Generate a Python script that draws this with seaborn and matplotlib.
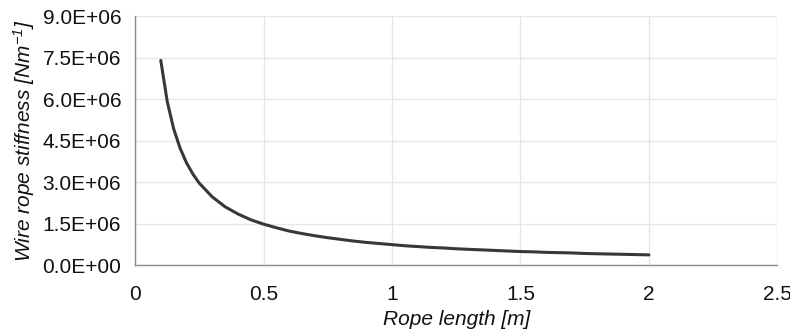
import matplotlib
matplotlib.use("Agg")
import matplotlib.pyplot as plt
from matplotlib.ticker import FuncFormatter
import seaborn as sns
import pandas as pd

# values
rope_length = [0.10, 0.125, 0.15, 0.175, 0.20, 0.225, 0.25, 0.30, 0.35, 0.40, 0.45, 0.50, 0.55,
               0.60, 0.65, 0.70, 0.75, 0.80, 0.85, 0.90, 0.95, 1.00, 1.05,
               1.10, 1.15, 1.20, 1.25, 1.30, 1.35, 1.40, 1.45, 1.50, 1.55,
               1.60, 1.65, 1.70, 1.75, 1.80, 1.85, 1.90, 1.95, 2.00]
stiffness = [7.40e6, 5.92e6, 4.93e6, 4.23e6, 3.70e6, 3.29e6, 2.96e6, 2.47e6, 2.11e6, 1.85e6, 1.64e6, 1.48e6, 1.35e6,
             1.23e6, 1.14e6, 1.06e6, 0.99e6, 0.93e6, 0.87e6, 0.82e6, 0.78e6, 0.74e6, 0.70e6,
             0.67e6, 0.64e6, 0.62e6, 0.59e6, 0.57e6, 0.55e6, 0.53e6, 0.51e6, 0.49e6, 0.48e6,
             0.46e6, 0.45e6, 0.44e6, 0.42e6, 0.41e6, 0.40e6, 0.39e6, 0.38e6, 0.37e6]
x_ticks = [0, 0.5, 1, 1.5, 2, 2.5]
y_ticks = [0, 1.5e6, 3.0e6, 4.5e6, 6.0e6, 7.5e6, 9.0e6]

df = pd.DataFrame({"length": rope_length, "k": stiffness})

sns.set_style("white")
plt.rcParams["font.family"] = ["Liberation Sans", "DejaVu Sans"]
plt.rcParams["mathtext.fontset"] = "custom"
plt.rcParams["mathtext.rm"] = "Liberation Sans:italic"
plt.rcParams["mathtext.it"] = "Liberation Sans:italic"

fig = plt.figure(figsize=(7.9, 3.36), dpi=100)
ax = fig.add_axes([0.171, 0.211, 0.813, 0.741])

sns.lineplot(data=df, x="length", y="k", color="#383838", linewidth=2.2, ax=ax)

ax.set_xlim(0, 2.5)
ax.set_ylim(0, 9.0e6)
ax.set_xticks(x_ticks)
ax.set_yticks(y_ticks)
ax.xaxis.set_major_formatter(FuncFormatter(lambda v, p: f"{v:g}"))
ax.yaxis.set_major_formatter(FuncFormatter(lambda v, p: f"{v:.1E}"))
ax.grid(True, color="#e6e6e6", linewidth=1)
ax.set_axisbelow(True)

for s in ["top", "right"]:
    ax.spines[s].set_visible(False)
for s in ["left", "bottom"]:
    ax.spines[s].set_color("#8c8c8c")
    ax.spines[s].set_linewidth(1)
ax.tick_params(axis="both", which="major", direction="out", length=5, width=1,
               color="#8c8c8c", labelsize=15, labelcolor="#111111", pad=5)
ax.tick_params(axis="x", pad=9)

ax.set_xlabel("Rope length [m]", fontsize=15, style="italic", color="#111111", labelpad=5)
ax.set_ylabel("Wire rope stiffness [Nm$^{-1}$]", fontsize=15, style="italic", color="#111111", labelpad=4)

fig.savefig("out.png", dpi=100)
